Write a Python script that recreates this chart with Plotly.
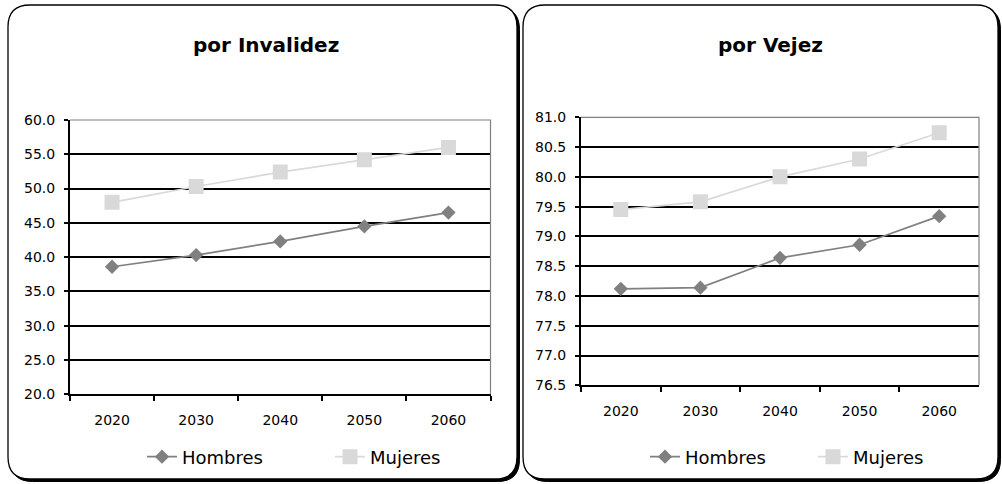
import plotly.graph_objects as go

# ---------------- data ----------------
years = ["2020", "2030", "2040", "2050", "2060"]
inv_hombres = [38.6, 40.3, 42.3, 44.5, 46.5]
inv_mujeres = [48.0, 50.3, 52.4, 54.2, 56.0]
vej_hombres = [78.12, 78.14, 78.64, 78.86, 79.34]
vej_mujeres = [79.45, 79.58, 80.00, 80.30, 80.74]
titles = ["por Invalidez", "por Vejez"]
series_names = ["Hombres", "Mujeres"]

# ---------------- styling ----------------
W, H = 1002, 484
FONT = "DejaVu Sans, Arial, sans-serif"
C_H = "#808080"
C_M = "#D9D9D9"


def px(x):
    return x / W


def py(y):
    return 1 - y / H


def rrect(x0, y0, x1, y1, r):
    return (
        f"M {px(x0 + r)},{py(y0)} L {px(x1 - r)},{py(y0)} "
        f"Q {px(x1)},{py(y0)} {px(x1)},{py(y0 + r)} "
        f"L {px(x1)},{py(y1 - r)} Q {px(x1)},{py(y1)} {px(x1 - r)},{py(y1)} "
        f"L {px(x0 + r)},{py(y1)} Q {px(x0)},{py(y1)} {px(x0)},{py(y1 - r)} "
        f"L {px(x0)},{py(y0 + r)} Q {px(x0)},{py(y0)} {px(x0 + r)},{py(y0)} Z"
    )


fig = go.Figure()

panels = [
    dict(data=(inv_hombres, inv_mujeres), xa="x", ya="y", leg="legend"),
    dict(data=(vej_hombres, vej_mujeres), xa="x2", ya="y2", leg="legend2"),
]
for p in panels:
    h, m = p["data"]
    fig.add_trace(go.Scatter(
        x=years, y=h, name=series_names[0], mode="lines+markers",
        line=dict(color=C_H, width=1.7),
        marker=dict(symbol="diamond", size=11, color=C_H),
        xaxis=p["xa"], yaxis=p["ya"], legend=p["leg"],
    ))
    fig.add_trace(go.Scatter(
        x=years, y=m, name=series_names[1], mode="lines+markers",
        line=dict(color=C_M, width=1.7),
        marker=dict(symbol="square", size=15, color=C_M),
        xaxis=p["xa"], yaxis=p["ya"], legend=p["leg"],
    ))

# plot-area rectangles (pixels)
areas = [(70, 120, 490.5, 394.3), (581, 117.3, 979, 385.3)]
boxes = [(8, 5, 517, 479), (523, 5, 998, 479)]

shapes = []
for (x0, y0, x1, y1) in boxes:
    shapes.append(dict(type="path", xref="paper", yref="paper", layer="below",
                       path=rrect(x0 + 2.5, y0 + 2.5, x1 + 2.5, y1 + 2.5, 22),
                       fillcolor="black", line=dict(color="black", width=1)))
    shapes.append(dict(type="path", xref="paper", yref="paper", layer="below",
                       path=rrect(x0, y0, x1, y1, 22),
                       fillcolor="white", line=dict(color="black", width=1.3)))
for (x0, y0, x1, y1) in areas:
    shapes.append(dict(type="path", xref="paper", yref="paper", layer="above",
                       path=f"M {px(x0)},{py(y0)} L {px(x1)},{py(y0)} L {px(x1)},{py(y1)}",
                       line=dict(color=C_H, width=1.2)))

xcommon = dict(type="category", range=[-0.5, 4.5], tickson="boundaries",
               ticks="outside", ticklen=5, tickcolor="black", tickwidth=1.5,
               showline=True, linecolor="black", linewidth=2, showgrid=False,
               tickfont=dict(family=FONT, size=14, color="black"),
               ticklabelstandoff=12, automargin=False)
ycommon = dict(ticks="outside", ticklen=4, tickcolor="black", tickwidth=1.5,
               showline=True, linecolor="black", linewidth=2,
               showgrid=True, gridcolor="black", gridwidth=1.6, zeroline=False,
               tickformat=".1f",
               tickfont=dict(family=FONT, size=14, color="black"),
               ticklabelstandoff=6, automargin=False)

a1, a2 = areas
fig.update_layout(
    width=W, height=H, autosize=False,
    margin=dict(l=0, r=0, t=0, b=0, pad=0),
    paper_bgcolor="white", plot_bgcolor="rgba(0,0,0,0)",
    xaxis=dict(xcommon, domain=[px(a1[0]), px(a1[2])], anchor="y"),
    yaxis=dict(ycommon, domain=[py(a1[3]), py(a1[1])], range=[20, 60], dtick=5, anchor="x"),
    xaxis2=dict(xcommon, domain=[px(a2[0]), px(a2[2])], anchor="y2"),
    yaxis2=dict(ycommon, domain=[py(a2[3]), py(a2[1])], range=[76.5, 81], dtick=0.5, anchor="x2"),
    shapes=shapes,
    legend=dict(orientation="h", x=px(142), y=py(457), xanchor="left", yanchor="middle",
                font=dict(family=FONT, size=18, color="black"), bgcolor="rgba(0,0,0,0)",
                entrywidth=143, entrywidthmode="pixels"),
    legend2=dict(orientation="h", x=px(645), y=py(457), xanchor="left", yanchor="middle",
                 font=dict(family=FONT, size=18, color="black"), bgcolor="rgba(0,0,0,0)",
                 entrywidth=123, entrywidthmode="pixels"),
    annotations=[
        dict(text=f"<b>{titles[0]}</b>", x=px(266), y=py(45), xref="paper", yref="paper",
             xanchor="center", yanchor="middle",
             showarrow=False, font=dict(family=FONT, size=20, color="black")),
        dict(text=f"<b>{titles[1]}</b>", x=px(770), y=py(45), xref="paper", yref="paper",
             xanchor="center", yanchor="middle",
             showarrow=False, font=dict(family=FONT, size=20, color="black")),
    ],
)

fig.write_html("out.html", config={"displayModeBar": False},
               post_script="document.body.style.margin='0px';")
